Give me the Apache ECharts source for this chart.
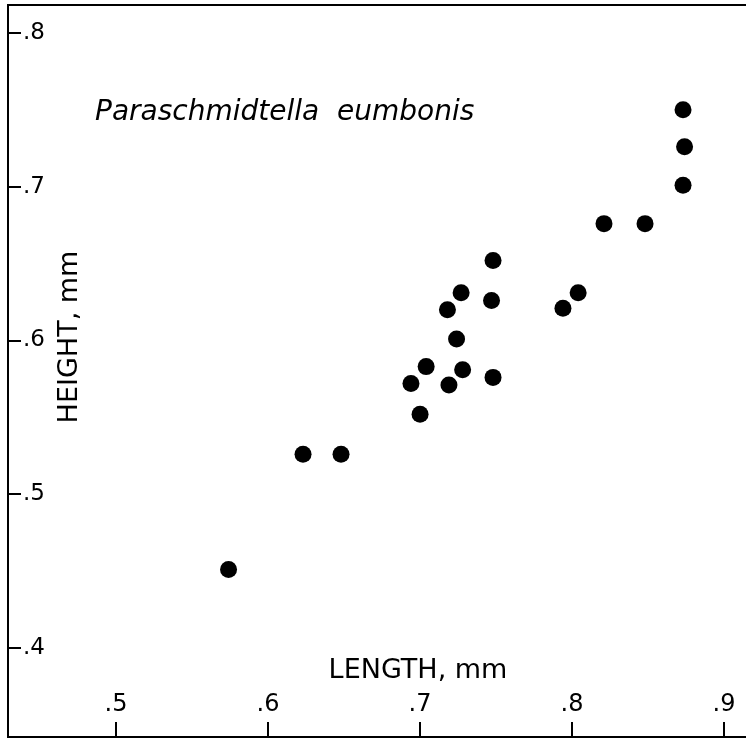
<!DOCTYPE html>
<html>
<head>
<meta charset="utf-8">
<script src="https://cdn.jsdelivr.net/npm/echarts@6/dist/echarts.min.js"></script>
<style>
  html, body { margin: 0; padding: 0; background: #fff; overflow: hidden; width: 746px; height: 740px; }
  /* the canvas is a little wider than the page so the frame's right edge falls off-page */
  #chart { width: 760px; height: 740px; }
</style>
</head>
<body>
<div id="chart"></div>
<script>
// Shell length vs height measurements (mm)
const lengthMm = [0.574, 0.623, 0.648, 0.694, 0.700, 0.704, 0.718, 0.719, 0.724, 0.727, 0.728,
                  0.747, 0.748, 0.748, 0.794, 0.804, 0.821, 0.848, 0.873, 0.874, 0.873];
const heightMm = [0.451, 0.526, 0.526, 0.572, 0.552, 0.583, 0.620, 0.571, 0.601, 0.631, 0.581,
                  0.626, 0.576, 0.652, 0.621, 0.631, 0.676, 0.676, 0.750, 0.726, 0.701];
const xTicks = [0.5, 0.6, 0.7, 0.8, 0.9];
const yTicks = [0.4, 0.5, 0.6, 0.7, 0.8];
const speciesName = 'Paraschmidtella  eumbonis';
const xName = 'LENGTH, mm';
const yName = 'HEIGHT, mm';

const points = lengthMm.map((x, i) => [x, heightMm[i]]);
const fmt = v => '.' + Math.round(v * 10);
const FONT = 'DejaVu Sans';

const PLOT_LEFT = 8;
const PLOT_W = 760 - PLOT_LEFT;
const X_MIN = 0.4289;
const X_PER_PX = 1 / 1520;

const chart = echarts.init(document.getElementById('chart'), null, { renderer: 'canvas' });
chart.setOption({
  animation: false,
  backgroundColor: '#fff',
  grid: {
    left: PLOT_LEFT, top: 5, right: 0, bottom: 3,
    show: true, borderColor: '#000', borderWidth: 2, backgroundColor: 'transparent'
  },
  xAxis: {
    type: 'value',
    min: X_MIN, max: X_MIN + PLOT_W * X_PER_PX,
    axisLine: { show: true, lineStyle: { color: '#000', width: 2 } },
    axisTick: { show: true, inside: true, length: 15, lineStyle: { color: '#000', width: 2 },
                customValues: xTicks },
    axisLabel: { show: true, inside: true, margin: 20, color: '#000', fontSize: 24,
                 fontFamily: FONT, customValues: xTicks, formatter: fmt },
    splitLine: { show: false }
  },
  yAxis: {
    type: 'value',
    min: 0.3421, max: 0.8182,
    axisLine: { show: true, lineStyle: { color: '#000', width: 2 } },
    axisTick: { show: true, inside: true, length: 13, lineStyle: { color: '#000', width: 2 },
                customValues: yTicks },
    axisLabel: { show: true, inside: true, margin: 15, color: '#000', fontSize: 23,
                 fontFamily: FONT, customValues: yTicks, formatter: fmt },
    splitLine: { show: false }
  },
  graphic: [
    { type: 'text', left: 95, top: 99,
      style: { text: speciesName, fill: '#000', font: 'italic 28px "' + FONT + '"' } },
    { type: 'text', x: 418, y: 671,
      style: { text: xName, fill: '#000', font: '27px "' + FONT + '"', align: 'center', verticalAlign: 'middle' } },
    { type: 'text', x: 70, y: 337, rotation: Math.PI / 2,
      style: { text: yName, fill: '#000', font: '27px "' + FONT + '"', align: 'center', verticalAlign: 'middle' } }
  ],
  series: [{
    type: 'scatter',
    data: points,
    symbol: 'circle',
    symbolSize: 17,
    itemStyle: { color: '#000', opacity: 1 }
  }]
});
</script>
</body>
</html>
